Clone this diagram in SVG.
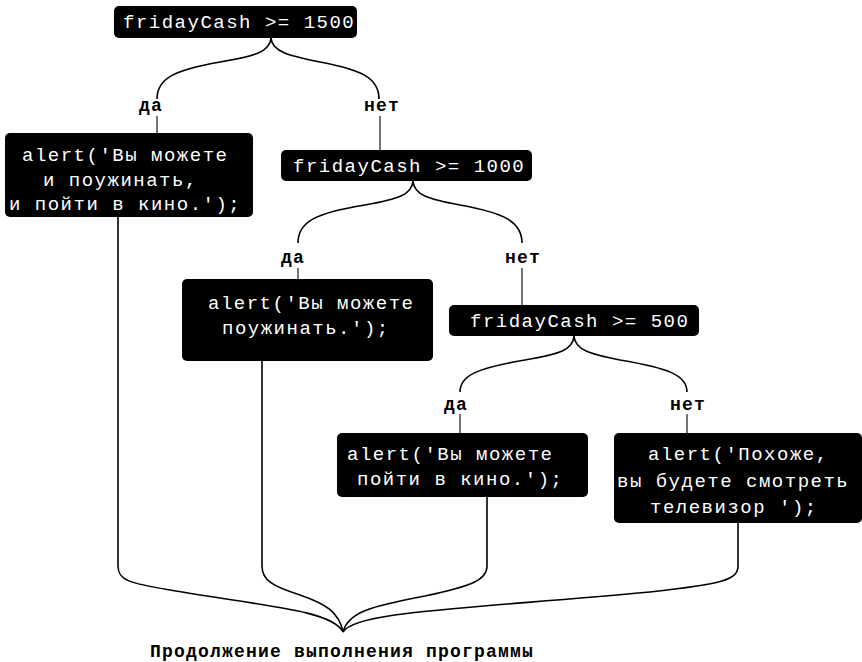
<svg xmlns="http://www.w3.org/2000/svg" width="862" height="662" viewBox="0 0 862 662">
<style>
.box{fill:#000;}
.code{font-family:"Liberation Mono","Courier New",monospace;font-size:19px;letter-spacing:1.5px;fill:#fff;}
.lbl{font-family:"Liberation Mono","Courier New",monospace;font-size:18px;font-weight:bold;letter-spacing:1.2px;fill:#000;text-anchor:middle;}
.c{fill:none;stroke:#000;stroke-width:1.6;}
.t{fill:none;stroke:#000;stroke-width:1.1;}
</style>
<rect width="862" height="662" fill="#fff"/>
<g id="connectors">
<path class="c" d="M271,38 C270,52 255,56 220,62 C175,70 157,78 157,99"/>
<path class="c" d="M271,38 C272,52 290,56 320,62 C362,70 379,78 379,99"/>
<path class="c" d="M413,181 C412,195 398,199 365,205 C315,213 298,222 298,243"/>
<path class="c" d="M413,181 C414,195 428,199 460,205 C505,213 522,222 522,243"/>
<path class="c" d="M574,336 C573,350 560,354 525,360 C478,368 460,375 460,392"/>
<path class="c" d="M574,336 C575,350 590,354 620,360 C668,368 687,375 687,392"/>
<line class="t" x1="157" y1="116" x2="157" y2="133"/>
<line class="t" x1="380" y1="116" x2="380" y2="150"/>
<line class="t" x1="298" y1="268" x2="298" y2="279"/>
<line class="t" x1="522" y1="268" x2="522" y2="305"/>
<line class="t" x1="460" y1="414" x2="460" y2="433"/>
<line class="t" x1="687" y1="414" x2="687" y2="433"/>
<path class="c" d="M118,217 V566 C118,580 128,583 170,590 C262,606 332,610 343,632"/>
<path class="c" d="M262,361 V566 C262,580 272,586 300,595 C326,604 339,612 343,632"/>
<path class="c" d="M487,497 V566 C487,580 472,586 425,596 C372,606 348,612 343,632"/>
<path class="c" d="M738,523 V566 C738,580 722,584 650,592 C450,610 355,612 343,632"/>
</g>
<g id="cond1">
<rect class="box" x="114" y="6" width="243" height="32" rx="5"/>
<text class="code" x="123" y="28">fridayCash &gt;= 1500</text>
</g>
<g id="lbl-da1"><text class="lbl" x="151" y="111">да</text></g>
<g id="lbl-net1"><text class="lbl" x="382" y="111">нет</text></g>
<g id="alert1">
<rect class="box" x="5" y="133" width="248" height="84" rx="5"/>
<text class="code" x="22" y="161">alert('Вы можете</text>
<text class="code" x="43" y="186">и поужинать,</text>
<text class="code" x="9" y="210">и пойти в кино.');</text>
</g>
<g id="cond2">
<rect class="box" x="281" y="150" width="251" height="31" rx="5"/>
<text class="code" x="293" y="172">fridayCash &gt;= 1000</text>
</g>
<g id="lbl-da2"><text class="lbl" x="293" y="263">да</text></g>
<g id="lbl-net2"><text class="lbl" x="523" y="263">нет</text></g>
<g id="alert2">
<rect class="box" x="182" y="279" width="251" height="82" rx="5"/>
<text class="code" x="208" y="309">alert('Вы можете</text>
<text class="code" x="222" y="334">поужинать.');</text>
</g>
<g id="cond3">
<rect class="box" x="449" y="305" width="250" height="31" rx="5"/>
<text class="code" x="470" y="327">fridayCash &gt;= 500</text>
</g>
<g id="lbl-da3"><text class="lbl" x="456" y="410">да</text></g>
<g id="lbl-net3"><text class="lbl" x="688" y="410">нет</text></g>
<g id="alert3">
<rect class="box" x="337" y="433" width="251" height="64" rx="5"/>
<text class="code" x="347" y="460">alert('Вы можете</text>
<text class="code" x="357" y="485">пойти в кино.');</text>
</g>
<g id="alert4">
<rect class="box" x="614" y="433" width="248" height="90" rx="5"/>
<text class="code" x="648" y="460">alert('Похоже,</text>
<text class="code" x="617" y="487">вы будете смотреть</text>
<text class="code" x="650" y="513">телевизор ');</text>
</g>
<g id="footer"><text class="lbl" x="342" y="657">Продолжение выполнения программы</text></g>
</svg>
